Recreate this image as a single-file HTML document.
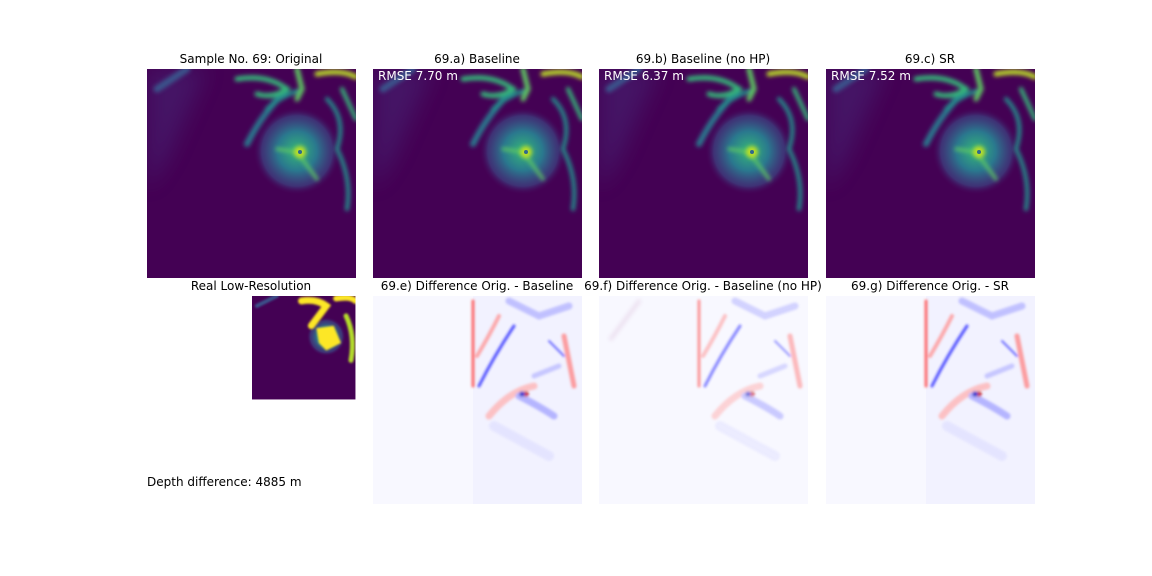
<!DOCTYPE html>
<html><head><meta charset="utf-8"><style>
body{margin:0;background:#fff;}
svg{display:block;font-family:"DejaVu Sans","Liberation Sans",sans-serif;}
</style></head><body>
<svg id="fig" width="1152" height="576" viewBox="0 0 1152 576">
<defs>
  <filter id="b1" x="-50%" y="-50%" width="200%" height="200%"><feGaussianBlur stdDeviation="1.2"/></filter>
  <filter id="b2" x="-50%" y="-50%" width="200%" height="200%"><feGaussianBlur stdDeviation="2"/></filter>
  <filter id="b10" x="-50%" y="-50%" width="200%" height="200%"><feGaussianBlur stdDeviation="10"/></filter>
  <radialGradient id="mound"><stop offset="0" stop-color="#35b779"/><stop offset="0.45" stop-color="#2a788e"/><stop offset="0.8" stop-color="#3b528b" stop-opacity="0.6"/><stop offset="1" stop-color="#440154" stop-opacity="0"/></radialGradient>
  <clipPath id="c209"><rect width="209" height="209"/></clipPath>
  <g id="terrain" clip-path="url(#c209)">
    <rect width="209" height="209" fill="#440154"/>
    <path d="M0 0 L60 0 L20 90 L0 120 Z" fill="#46337f" opacity="0.4" filter="url(#b10)"/>
    <circle cx="150" cy="82" r="44" fill="url(#mound)"/>
    <g filter="url(#b2)" fill="none" stroke-linecap="round">
      <path d="M140 20 Q115 45 100 75" stroke="#2a788e" stroke-width="6"/>
      <path d="M90 10 Q120 5 140 20 Q125 30 110 25" stroke="#35b779" stroke-width="5"/>
      <path d="M120 40 Q130 30 150 22" stroke="#21918c" stroke-width="4"/>
      <path d="M150 0 L155 20 L150 30" stroke="#5ec962" stroke-width="5"/>
      <path d="M170 5 Q195 0 209 8" stroke="#bddf26" stroke-width="5"/>
      <path d="M180 30 Q200 50 190 80 Q205 110 200 140" stroke="#21918c" stroke-width="4"/>
      <path d="M195 20 L209 50" stroke="#35b779" stroke-width="4"/>
      <path d="M130 80 L150 83 L170 110" stroke="#5ec962" stroke-width="3"/>
      <path d="M10 20 L40 0" stroke="#3b528b" stroke-width="7"/>
    </g>
    <circle cx="153" cy="83" r="6" fill="#bddf26" filter="url(#b2)"/>
    <circle cx="153" cy="83" r="2" fill="#31688e"/>
  </g>
  <g id="terrainLR" clip-path="url(#c209)">
    <rect width="209" height="209" fill="#440154"/>
    <circle cx="150" cy="82" r="40" fill="url(#mound)"/>
    <g filter="url(#b2)" fill="none" stroke-linecap="round">
      <path d="M100 10 Q130 5 150 20 L120 60" stroke="#fde725" stroke-width="14"/>
      <path d="M170 5 Q200 0 209 10" stroke="#fde725" stroke-width="12"/>
      <path d="M190 40 Q209 80 200 130" stroke="#b5de2b" stroke-width="10"/>
      <path d="M10 20 L50 0" stroke="#3b528b" stroke-width="8"/>
    </g>
    <path d="M130 65 L165 60 L180 95 L150 110 L135 95 Z" fill="#fde725" filter="url(#b2)"/>
  </g>
  <g id="diffBlobs" filter="url(#b1)" fill="none" stroke-linecap="round" opacity="0.75">
    <path d="M104 5 L104 90" stroke="#ff4040" stroke-width="3"/>
    <path d="M110 90 Q125 60 145 30" stroke="#2020ff" stroke-width="3"/>
    <path d="M108 60 Q120 40 130 20" stroke="#ff9090" stroke-width="4"/>
    <path d="M140 5 L170 20 L200 10" stroke="#b0b0ff" stroke-width="7"/>
    <path d="M195 40 L205 90" stroke="#ff8080" stroke-width="5"/>
    <path d="M120 120 Q140 95 165 90" stroke="#ffb0b0" stroke-width="7"/>
    <path d="M150 100 Q170 110 185 120" stroke="#a0a0ff" stroke-width="7"/>
    <path d="M165 80 L190 70" stroke="#b8b8ff" stroke-width="5"/>
    <path d="M180 45 L195 60" stroke="#4040ff" stroke-width="2"/>
    <circle cx="157" cy="98" r="3" fill="#c00000"/>
    <circle cx="153" cy="98" r="3" fill="#0000c0"/>
    <path d="M125 130 L180 160" stroke="#e0e0ff" stroke-width="10"/>
  </g>
</defs>

<g font-size="12" fill="#000" text-anchor="middle">
  <text x="251" y="63">Sample No. 69: Original</text>
  <text x="477" y="63">69.a) Baseline</text>
  <text x="703" y="63">69.b) Baseline (no HP)</text>
  <text x="930" y="63">69.c) SR</text>
  <text x="251" y="290">Real Low-Resolution</text>
  <text x="477" y="290">69.e) Difference Orig. - Baseline</text>
  <text x="703" y="290">69.f) Difference Orig. - Baseline (no HP)</text>
  <text x="930" y="290">69.g) Difference Orig. - SR</text>
</g>

<use href="#terrain" x="147" y="69"/>
<use href="#terrain" x="373" y="69"/>
<use href="#terrain" x="599" y="69"/>
<use href="#terrain" x="826" y="69"/>
<use href="#terrainLR" transform="translate(252 296) scale(0.495)"/>

<g id="rmse" fill="#fff" font-size="12"></g>

<g>
  <rect x="373" y="296" width="209" height="208" fill="#f8f8ff"/>
  <rect x="473" y="296" width="109" height="208" fill="#f2f2ff"/>
  <use href="#diffBlobs" x="369" y="296"/>
</g>
<g>
  <rect x="599" y="296" width="209" height="208" fill="#f8f8ff"/>
  <use href="#diffBlobs" x="595" y="296" opacity="0.7"/>
  <path d="M610 340 L640 300" stroke="#ece0f0" stroke-width="4" filter="url(#b2)"/>
</g>
<g>
  <rect x="826" y="296" width="209" height="208" fill="#f8f8ff"/>
  <rect x="926" y="296" width="109" height="208" fill="#f2f2ff"/>
  <use href="#diffBlobs" x="822" y="296"/>
</g>

<text x="147" y="486" font-size="12">Depth difference: 4885 m</text>
</svg>
<script>
const rmseLabels = ["RMSE 7.70 m", "RMSE 6.37 m", "RMSE 7.52 m"];
const rmseX = [378, 604, 831];
const g = document.getElementById('rmse');
rmseLabels.forEach((t, i) => {
  const el = document.createElementNS('http://www.w3.org/2000/svg', 'text');
  el.setAttribute('x', rmseX[i]);
  el.setAttribute('y', 80);
  el.textContent = t;
  
  
  g.appendChild(el);
});
</script>
</body></html>
